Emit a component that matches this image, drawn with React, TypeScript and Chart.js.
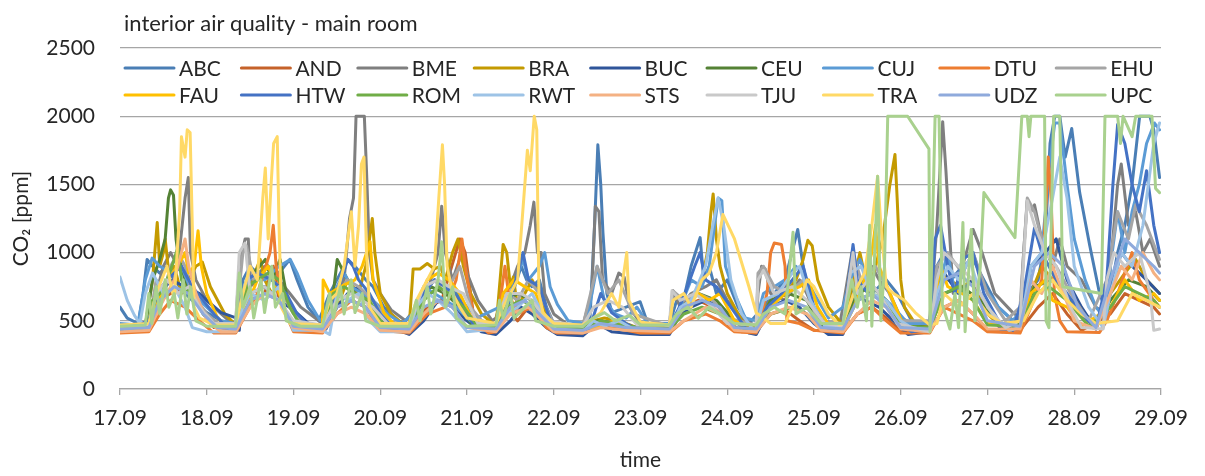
import React, { useEffect, useRef } from "react";
import { Chart, registerables } from "chart.js";

Chart.register(...registerables);

const chartTitle = "interior air quality - main room";
const xTitle = "time";
const yTitle = "CO₂ [ppm]";
const dateLabels = ["17.09", "18.09", "19.09", "20.09", "21.09", "22.09", "23.09", "24.09", "25.09", "26.09", "27.09", "28.09", "29.09"];
const yTicks = [0, 500, 1000, 1500, 2000, 2500];

const seriesNames = ["ABC", "AND", "BME", "BRA", "BUC", "CEU", "CUJ", "DTU", "EHU", "FAU", "HTW", "ROM", "RWT", "STS", "TJU", "TRA", "UDZ", "UPC"];
const seriesColors = ["#4A7EB5", "#C5622A", "#7F7F7F", "#C49A00", "#2F559A", "#548235", "#5B9BD5", "#ED7D31", "#A5A5A5", "#FFC000", "#4472C4", "#70AD47", "#9DC3E6", "#F4B183", "#C9C9C9", "#FFD966", "#8FAADC", "#A9D18E"];

// [hours since 17.09 00:00, CO2 ppm]
const ABC = [[0,600],[2,520],[5,480],[6.4,700],[7.5,950],[9,900],[11,850],[13,900],[15,800],[18,700],[20,650],[24,560],[28,500],[31,470],
[32,500],[34,800],[36,900],[38,850],[41,900],[44,850],[47,950],[49,800],[52,600],[55,500],
[58,700],[60,800],[63,950],[65,900],[68,800],[70,750],[73,600],[77,500],[80,470],
[81,550],[84,700],[87,800],[90,750],[93,700],[96,600],[100,500],[104,470],
[105,550],[108,650],[111,900],[112.5,800],[114,750],[116,800],[118,600],[120,480],
[128,470],[130,500],[131.3,1200],[132.2,1790],[133,1500],[133.6,1150],[134.7,700],[136.1,560],[140,600],[143.9,640],[146,480],
[152,470],[154,650],[156.3,700],[158,900],[160.5,1110],[161.5,800],[163,900],[165,700],[168,800],[171,600],[174,480],
[178,600],[181,700],[184,800],[187.5,1170],[189,900],[191,650],[194,500],[199,470],
[202,700],[205,800],[208,700],[212,800],[215,700],[219,500],[224,460],
[226,900],[228,1000],[230,800],[233,900],[236,950],[239,800],[243,600],[248,480],
[251,700],[254,800],[256,1100],[257.3,1800],[258.6,2000],[260,2000],[261.5,1700],[263.3,1910],[265.5,1440],[268.3,1050],[271,700],[273,560],
[276,1000],[278,1200],[280,1500],[282.1,2000],[284.9,2000],[286,1900],[287.6,1550]];

const AND = [[0,430],[8,450],[11,650],[14,700],[18,750],[22,600],[26,450],
[32,440],[36,650],[40,700],[42.4,900],[44,650],[48,460],
[56,430],[60,600],[64,650],[68,600],[72,450],
[80,430],[85,600],[89,650],[94,1100],[95.5,1000],[98,500],[104,430],
[107,600],[110,500],[113,600],[116,520],[120,430],
[128,430],[133,500],[138,460],[144,430],
[152,420],[156,600],[160,650],[164,600],[168,500],[172,420],
[176,420],[180,550],[184,580],[188,500],[192,430],
[200,420],[204,550],[208,600],[212,520],[216,420],
[224,420],[228,600],[232,650],[236,550],[240,430],
[249,430],[254,600],[258,700],[262,550],[266,430],
[274,550],[278,700],[282,650],[286,600],[287.6,550]];

const BME = [[0,460],[8,470],[10,700],[12,900],[14,1000],[16,900],[18,1400],[18.9,1550],[19.5,1000],[21,800],[24,650],[28,550],[31,480],
[32,480],[33,900],[34.6,1100],[35.5,1100],[36,750],[38,800],[40,900],[42,850],[44,800],[47,700],[50,600],[54,520],[56,480],
[58,600],[60,700],[62,800],[63.5,1250],[64.6,1400],[65.3,2000],[67.6,2000],[68.2,1600],[69,1000],[70,800],[72,700],[75,580],[79,500],
[82,600],[85,700],[88,1000],[89,1340],[90,1000],[92,800],[94.6,1000],[96,850],[99,650],[103,500],
[104,520],[106,700],[108,750],[110,900],[112,1000],[113.5,1200],[114.5,1370],[115.5,1000],[116.5,1000],[117.5,700],[120,550],[124,470],
[128,460],[130.5,700],[131.5,1340],[132.5,1300],[133.5,800],[136,700],[138,850],[139.5,820],[141,600],[144,480],
[152,470],[153,720],[155,600],[158,700],[162,750],[165,800],[168,650],[172,520],[176,460],
[176.5,700],[177.5,900],[178.5,880],[180,700],[184,650],[188,800],[190,700],[193,520],[199,460],
[200,600],[202.5,1000],[203.5,700],[206,800],[208,900],[210,800],[213,700],[216,520],[222,450],
[224,500],[226,1200],[227.6,1960],[228.5,1600],[229.6,1100],[230.5,700],[232,800],[236,1170],[238.5,1000],[242,700],[247,560],[249,520],
[250,1000],[251,1380],[252,1300],[253,1350],[255,1100],[258,900],[260,1100],[262,900],[266,800],[270,600],[273,550],
[274,900],[276,1500],[277,1650],[279,1200],[281,1300],[283,1000],[285,1100],[287.6,900]];

const BRA = [[0,450],[7,470],[9,800],[10.3,1220],[11,900],[12,1000],[12.5,1100],[13.5,850],[15,900],[17,700],[19,800],[21,900],[22.8,930],[25,750],[29,550],[32,470],
[33,500],[35,700],[38.8,950],[40,800],[42,700],[44,750],[47,600],[50,500],[54,450],
[56,460],[60,600],[63,800],[66,700],[68,900],[69.8,1250],[70.5,1000],[72,700],[75,550],[79,460],
[80,460],[81.1,880],[83,880],[85,920],[87,880],[88.6,900],[90,800],[92,1000],[93.5,1100],[95,900],[97,700],[100,550],[104,460],
[104.5,600],[106,1060],[107,1000],[108,750],[108.8,820],[110,600],[112,700],[114,800],[116,700],[118,550],[121,450],
[128,440],[131,500],[134,520],[138,500],[142,460],
[152,450],[155,600],[158,650],[161,800],[162.5,1000],[163.5,1300],[164.1,1430],[165,1100],[166,900],[168,700],[172,500],[176,450],
[176.5,500],[180,650],[184,700],[187,800],[189,950],[190.3,1090],[191.5,1050],[193,800],[196,600],[199,500],
[200,470],[203,800],[204.7,1000],[205.5,900],[207,700],[209,900],[211,1100],[213,1500],[214.4,1720],[215,1400],[216,800],[217,600],[220,480],
[224,450],[227,900],[229,800],[233,750],[236,800],[240,550],[244,450],
[249,500],[252,700],[255,900],[258,800],[261,700],[265,600],[270,470],
[274,700],[278,850],[281,950],[284,800],[287.6,700]];

const BUC = [[0,430],[8,450],[10,650],[14,800],[18,750],[22,700],[24,650],[28,560],[32.3,520],[33,430],
[33.5,600],[36,700],[40,750],[44,650],[48,580],[53,460],[56,420],
[57,450],[60,600],[63,700],[66,750],[68,650],[72,550],[78,420],
[80,400],[84,500],[88,650],[92,600],[96,500],[100,420],
[104,400],[108,500],[111,600],[114,550],[118,450],[121,400],
[128,390],[132,480],[136,420],[144,400],
[152,400],[155,550],[158,600],[162,650],[166,600],[170,500],[174,410],
[176,400],[180,600],[184,650],[188,600],[192,480],[196,400],
[200,400],[203,700],[206,650],[210,600],[214,500],[218,400],
[224,420],[226,900],[228,850],[232,700],[236,800],[240,600],[244,420],
[249,450],[252,900],[256,1000],[259,1100],[262,800],[266,600],[270,440],
[274,700],[277,1000],[280,900],[284,800],[287.6,700]];

const CEU = [[0,440],[7,460],[9,800],[11,950],[12.5,1100],[13.4,1400],[14,1460],[14.8,1420],[15.5,1100],[16,1000],[18,800],[20,700],[23,550],[26,460],
[32,450],[34,700],[37,850],[40.2,950],[42,800],[44.3,950],[46,700],[49,520],[52,450],
[56,450],[59,700],[60.1,950],[62,850],[65,700],[68,650],[72,500],
[80,450],[83,650],[86,750],[90,700],[94,600],[98,450],
[104,460],[107,650],[110,700],[114,650],[118,500],[122,450],
[128,440],[132,500],[138,480],[144,440],
[152,440],[156,600],[160,700],[165,650],[170,500],[174,440],
[176,450],[180,650],[185,700],[190,650],[194,460],
[200,460],[204,700],[208,750],[212,650],[216,480],
[224,450],[228,700],[233,750],[238,650],[244,460],
[249,480],[253,750],[258,800],[264,600],[270,460],
[274,650],[279,800],[284,750],[287.6,650]];

const CUJ = [[0,480],[5,470],[7,800],[8.9,960],[11,900],[14,850],[17,900],[20,700],[24,600],[28,500],
[32,480],[34,700],[37,850],[40,800],[44,900],[47.1,950],[49,850],[52,650],[55.4,500],
[57,500],[60,750],[62,850],[64,750],[67,700],[70,650],[74,550],[78,480],
[81,550],[84,750],[87,700],[90,650],[93,600],[97,500],
[105,600],[108,700],[111.5,950],[113,800],[116,900],[117.5,1000],[119,750],[121,620],[124,500],
[129,480],[132,900],[134,650],[137,550],[140,520],[143,600],[146,480],
[152,480],[155,600],[158,800],[161,750],[163,900],[164.5,1200],[165.5,1400],[166.5,1380],[167.5,900],[170,700],[173,520],
[176,500],[178,700],[181,750],[184,800],[187,900],[189,850],[192,700],[196,520],
[200,600],[202,800],[204.7,950],[207,800],[210,700],[214,600],[218,480],
[225,480],[227,800],[229,1000],[231,700],[234,900],[236,1000],[239,750],[243,600],[247,500],
[250,600],[252,900],[255,1000],[257,1600],[258.6,1950],[260,1950],[262,1500],[264,1100],[267,800],[270,600],[273,500],
[274,900],[276,1300],[278,1000],[280,1300],[282,1500],[284,1800],[286.2,1950],[287.6,1900]];

const DTU = [[0,410],[8,420],[11,550],[14,650],[18,600],[22,500],[26,410],
[32,410],[38,700],[41.5,1000],[42.4,1200],[43.2,900],[45,600],[48,420],
[56,410],[60,550],[64,650],[68,600],[72,430],
[80,410],[85,550],[90,600],[93,800],[94.6,1100],[95.5,900],[98,500],[102,410],
[104,420],[106.5,900],[107.5,700],[110,550],[114,600],[118,450],[121,410],
[128,410],[133,460],[140,430],[144,410],
[152,410],[156,500],[162,550],[166,500],[170,420],
[176,410],[179,700],[180,1000],[181,1070],[183,1060],[184,900],[184.5,500],[188,480],[192,430],
[200,410],[204,550],[208,600],[212,500],[216,410],
[224,410],[228,600],[232,550],[236,500],[240,420],
[249,410],[252,600],[255,800],[256.3,1400],[256.8,1700],[257.6,1400],[258.5,700],[260,500],[262,420],[271,415],
[273,500],[276,700],[280,1000],[282,800],[286,650],[287.6,600]];

const EHU = [[0,450],[8,460],[10,800],[12,700],[14,900],[16,1000],[18,900],[20,700],[24,550],[28,460],
[32,460],[34,1000],[35,1050],[37,800],[40,850],[44,750],[48,550],[52,460],
[56,460],[60,700],[63,800],[66,750],[70,650],[74,500],
[80,460],[84,700],[87,800],[90,700],[94,900],[97,600],[101,470],
[104,470],[107,700],[110,650],[113,800],[116,700],[120,480],
[128,460],[132,900],[135,700],[138,800],[142,550],
[152,460],[153,720],[156,650],[160,700],[164,650],[168,520],
[176,470],[176.5,850],[178,900],[181,750],[185,700],[189,800],[193,500],
[200,480],[202.8,1000],[205,800],[209,900],[212,750],[216,500],
[224,500],[226,900],[229,1000],[233,850],[236,1000],[240,700],[245,500],
[249,600],[251,1400],[253,1300],[256,1000],[259,900],[263,700],[268,500],
[273,800],[276,1300],[279,1100],[281,1350],[284,1200],[287.6,950]];

const FAU = [[0,430],[8,450],[10,600],[13,800],[16,900],[18,1000],[19,850],[20.5,900],[21.6,1160],[22.5,900],[24,700],[27,520],[30,440],
[32,440],[35,600],[38,800],[41,900],[44,700],[47,500],
[56,440],[56.2,800],[58,700],[61,750],[65,800],[67,900],[69.2,1080],[70,800],[73,560],[77,440],
[80,440],[82,600],[85,800],[88,850],[91,800],[94,700],[98,480],
[104,450],[106,700],[109,800],[112,750],[115,700],[118,500],
[128,430],[132,460],[137,500],[141,450],
[152,430],[156,600],[160,700],[163,650],[166,700],[170,500],
[176,430],[180,600],[184,700],[188,750],[190.5,800],[193,600],[197,430],
[200,430],[203,600],[206,800],[208,1000],[209,1200],[210,900],[213,700],[217,450],
[224,430],[227,900],[229,750],[233,700],[236,650],[240,480],
[249,450],[252,700],[256,800],[258,650],[262,600],[266,460],
[274,600],[278,800],[282,650],[286,700],[287.6,650]];

const HTW = [[0,430],[8,500],[10,700],[13,800],[17,900],[20,750],[23,650],[26,550],[30,440],
[32,440],[35,800],[38,850],[42,800],[46,700],[49,550],[53,440],
[57,440],[60,700],[63,950],[64.5,900],[66,800],[69,700],[72,550],[76,430],
[81,500],[84,700],[87,800],[90,750],[94,650],[98,460],
[104,470],[108,650],[111.5,1000],[113,800],[116,750],[119,500],
[128,420],[130,450],[133,700],[136,560],[140,480],[144,430],
[152,430],[156.3,700],[159,900],[160.5,1000],[162,800],[165,750],[169,600],[173,450],
[176,440],[179,600],[183,700],[186,800],[189,900],[192,600],[196,430],
[200,450],[202.8,1060],[204,800],[207,700],[211,650],[215,500],[219,420],
[224,440],[225.5,1100],[227,1200],[229,900],[231,700],[233,950],[236,1000],[239,700],[243,500],[247,430],
[250,700],[253,1180],[255,1000],[257,900],[259,800],[262,700],[266,550],[270,440],
[273,800],[274.7,1500],[276,1940],[278,1800],[280,1500],[282,1300],[284,1600],[286,1200],[287.6,1000]];

const ROM = [[0,440],[8,460],[9,650],[11,700],[13,800],[15,950],[16,1040],[17,800],[19,700],[22,600],[26,460],
[32,450],[35,750],[38,800],[41,850],[44,800],[47,600],[50,460],
[56,450],[59,700],[62,750],[65,700],[69,650],[73,460],
[80,450],[84,650],[88,750],[91,700],[95,600],[99,460],
[104,450],[107,600],[111,650],[115,600],[119,460],
[128,440],[133,500],[140,460],
[152,440],[156,550],[161,600],[166,550],[170,450],
[176,440],[180,550],[186,600],[190,550],[194,450],
[200,450],[204,650],[208,700],[212,650],[216,460],
[224,450],[228,700],[232,750],[236,650],[240,470],
[249,460],[253,700],[257,750],[262,650],[268,460],
[274,600],[278,750],[282,700],[286,650],[287.6,600]];

const RWT = [[0,820],[2,650],[4,540],[5.5,480],[7,700],[9,850],[12,700],[15,750],[18,600],[20,450],[24,420],
[32,420],[34,600],[36,700],[40,650],[44,750],[46,550],[48,430],
[56,430],[58,400],[60,700],[63,650],[66,700],[69,500],[72,420],
[80,420],[82,600],[85,700],[88,650],[92,550],[96,420],
[104,440],[107,550],[110,600],[114,700],[118,500],[121,430],
[128,420],[131,500],[134,460],[138,500],[142,440],
[152,430],[155,600],[158,650],[162,900],[164,1200],[165.5,1400],[167,1200],[169,800],[172,550],[175,440],
[176,440],[178,650],[182,700],[186,850],[188,900],[191,650],[195,460],
[200,460],[202,850],[205,900],[208,700],[212,650],[216,500],[220,430],
[224,420],[226,700],[229,900],[232,800],[235,950],[238,700],[242,520],[246,430],
[249,450],[252,900],[255,1000],[258,1400],[260,1700],[262,1400],[264,900],[268,600],[272,450],
[274,700],[277,1000],[280,900],[283,1200],[286,1800],[287.6,1950]];

const STS = [[0,420],[8,430],[11,600],[15,800],[18,1100],[19,900],[21,700],[24,500],[28,420],
[32,420],[36,600],[40,700],[44,650],[48,450],
[56,420],[60,550],[64,600],[68,550],[72,430],
[80,420],[84,550],[88,650],[92,600],[96,450],
[104,420],[108,550],[113,600],[117,500],[120,420],
[128,410],[133,450],[140,430],
[152,420],[156,500],[162,600],[166,550],[170,430],
[176,420],[180,550],[185,600],[190,550],[194,430],
[200,420],[204,550],[208,650],[212,600],[216,440],
[224,420],[228,600],[232,650],[236,550],[240,440],
[249,440],[252,800],[255,700],[258,900],[261,700],[264,500],[270,440],
[274,700],[277,900],[280,800],[283,1000],[286,850],[287.6,800]];

const TJU = [[0,460],[8,470],[10,700],[13,800],[16,700],[19,750],[22,600],[26,480],
[32,480],[33,1000],[34.6,1070],[36,700],[40,750],[44,650],[48,500],
[56,470],[60,650],[64,700],[67,650],[70,600],[74,480],
[80,470],[84,750],[88,800],[91,750],[95,700],[99,480],
[104,480],[107,700],[111,700],[114,650],[118,500],
[128,460],[131,600],[135,650],[139,600],[143,470],
[152,470],[152.7,720],[155,650],[159,700],[164,600],[168,480],
[176,470],[176.5,800],[178,870],[181,700],[186,750],[190,650],[195,480],
[200,460],[202.8,1000],[204,700],[207,800],[210,700],[215,480],
[224,420],[226,800],[228,1000],[232,900],[236,800],[240,600],[245,450],
[249,500],[251,1380],[253,1200],[256,1000],[259,900],[263,600],[266,450],[272,440],
[273,800],[275,1000],[278,900],[282,1000],[285,700],[286,430],[287.6,440]];

const TRA = [[0,470],[8,480],[10,700],[13,900],[15,650],[16.5,1300],[17,1850],[18,1700],[18.6,1900],[19.4,1880],[20,1200],[20.5,600],[22,520],[26,470],
[32,470],[34,700],[36,900],[38,800],[39.5,1400],[40.2,1620],[41,1100],[41.8,1500],[42.5,1800],[43.5,1850],[44,1200],[44.6,600],[47,480],
[56,470],[58,650],[60,700],[62,900],[64,1300],[65,900],[66,1200],[66.8,1650],[67.5,1700],[68.2,1000],[69,600],[72,480],
[80,480],[82,650],[85,800],[87,900],[88.2,1400],[89.2,1790],[89.8,1500],[90.5,900],[92,700],[94,600],[96,520],
[104,480],[106,600],[108,700],[110,800],[112,1500],[112.7,1750],[113.5,1600],[114.6,2000],[115.3,1900],[115.9,700],[117,560],[120,480],
[128,470],[130,500],[133,560],[136,700],[138,600],[140.2,1000],[140.8,650],[144,490],
[152,470],[153,650],[156,700],[158,600],[161,800],[163,850],[165,1000],[166.8,1280],[170,1100],[174,750],[176,560],[180,480],
[184,480],[186,600],[188,650],[190,800],[192,750],[196,550],[199,470],
[200,480],[203,700],[206,850],[208,1200],[209.6,1560],[210.5,1200],[212,750],[214,700],[217,650],[220,560],[224,470],
[226,480],[228,700],[232,600],[236,700],[240,550],[244,480],
[250,500],[254,700],[258,800],[262,650],[266,550],[270,480],
[276,500],[280,700],[284,650],[287.6,600]];

const UDZ = [[0,440],[8,450],[11,650],[15,750],[19,700],[23,550],[27,450],
[32,440],[36,650],[40,700],[44,650],[48,460],
[56,440],[60,600],[64,650],[68,600],[72,450],
[80,440],[84,600],[88,650],[92,600],[96,450],
[104,440],[108,600],[112,650],[116,550],[120,440],
[128,430],[133,480],[140,450],
[152,440],[156,600],[161,650],[166,600],[170,450],
[176,440],[180,600],[185,650],[190,600],[194,450],
[200,440],[204,650],[208,700],[212,600],[216,450],
[224,440],[228,800],[232,850],[236,750],[240,500],
[249,460],[253,900],[257,1000],[261,900],[265,600],[270,450],
[274,800],[278,1100],[282,1000],[286,900],[287.6,850]];

const UPC = [[0,460],[7,470],[8,700],[8.8,480],[10,750],[11,550],[12.5,800],[13.5,600],[15,700],[16,520],[17.5,800],[18.5,550],[19.5,750],[21,500],[24,460],
[32,460],[33,850],[34,600],[36,750],[37,520],[39,800],[40,560],[42,900],[43,600],[45,700],[46,500],[50,460],
[56,460],[58,700],[59,520],[61,750],[62,550],[64,800],[65,560],[67,700],[68,500],[72,460],
[80,460],[82,650],[83,500],[85,750],[86,550],[88,800],[89,1080],[90,600],[92,750],[93,520],[96,460],
[104,470],[105,650],[106,520],[108,700],[109,520],[112,600],[114,650],[115,500],[120,460],
[128,460],[131,520],[134,560],[137,500],[141,540],[144,470],
[152,470],[154,550],[157,600],[160,520],[163,600],[166,550],[170,480],
[176,470],[178,550],[181,600],[184,550],[186.2,1150],[187,550],[190,600],[194,480],
[200,480],[202.5,800],[204,600],[205,750],[206.5,500],[207.4,1200],[208,460],[209.6,1560],[210.5,500],[211.5,900],[212.4,2000],[217.9,2000],[223.8,1760],[224.1,420],[225.5,2000],[226.6,2000],[227.5,620],[229.6,440],[231,700],[232,450],[233.2,1220],[233.8,420],[235.5,1170],[236.5,500],[238,900],[239,1440],[247.6,1110],[249.5,2000],[251,2000],[251.5,1850],[252,2000],[255.8,2000],[256.2,500],[257,450],[258.3,2000],[260,2000],[260.8,750],[271.5,700],[272.5,2000],[276,2000],[276.8,1800],[277.5,2000],[280,1850],[281,2000],[285.5,2000],[286.5,1470],[287.6,1440]];

const seriesData = [ABC, AND, BME, BRA, BUC, CEU, CUJ, DTU, EHU, FAU, HTW, ROM, RWT, STS, TJU, TRA, UDZ, UPC];

const FONT = "Lato, 'Open Sans', sans-serif";
const TEXT = "#262626";
const GRID = "#A6A6A6";
const FS = 21;

const overlayPlugin = {
  id: "overlay",
  afterDraw(chart: any) {
    const ctx = chart.ctx;
    ctx.save();
    ctx.fillStyle = TEXT;
    ctx.font = `22px ${FONT}`;
    ctx.textAlign = "left";
    ctx.textBaseline = "alphabetic";
    ctx.fillText(chartTitle, 124, 31);
    ctx.font = `${FS}px ${FONT}`;
    ctx.textBaseline = "middle";
    chart.data.datasets.forEach((ds: any, i: number) => {
      const col = i % 9;
      const row = Math.floor(i / 9);
      const x = 124 + col * 116.4;
      const y = row === 0 ? 68 : 95;
      ctx.strokeStyle = ds.borderColor;
      ctx.lineWidth = 3;
      ctx.lineCap = "round";
      ctx.beginPath();
      ctx.moveTo(x + 1, y);
      ctx.lineTo(x + 50, y);
      ctx.stroke();
      ctx.fillStyle = TEXT;
      ctx.fillText(ds.label, x + 55, y + 1);
    });
    ctx.restore();
  },
};

export default function App() {
  const ref = useRef<HTMLCanvasElement>(null);
  useEffect(() => {
    Chart.defaults.font.family = FONT;
    const chart = new Chart(ref.current as HTMLCanvasElement, {
      type: "line",
      data: {
        datasets: seriesNames.map((name, i) => ({
          label: name,
          data: seriesData[i].map(([x, y]) => ({ x, y })),
          borderColor: seriesColors[i],
          backgroundColor: seriesColors[i],
          borderWidth: 3,
          pointRadius: 0,
          tension: 0,
          fill: false,
          order: seriesNames.length - i,
          borderJoinStyle: "round",
          borderCapStyle: "round",
        })),
      },
      options: {
        responsive: false,
        animation: false,
        layout: { padding: { top: 48, right: 44, left: 0, bottom: 0 } },
        plugins: {
          legend: { display: false },
          title: { display: false },
          tooltip: { enabled: false },
        },
        scales: {
          x: {
            type: "linear",
            min: 0,
            max: 288,
            afterBuildTicks: (scale: any) => {
              scale.ticks = dateLabels.map((_, i) => ({ value: i * 24 }));
            },
            afterFit: (scale: any) => {
              scale.height = 87;
            },
            ticks: {
              autoSkip: false,
              maxRotation: 0,
              padding: 11,
              color: TEXT,
              font: { size: FS },
              callback: (v: any) => dateLabels[Math.round(Number(v) / 24)] ?? "",
            },
            grid: { drawOnChartArea: false, drawTicks: true, tickLength: 6, color: GRID, lineWidth: 1.3 },
            border: { display: true, color: GRID, width: 1.3 },
            title: { display: true, text: xTitle, color: TEXT, font: { size: FS }, padding: { top: 0, bottom: 3 } },
          },
          y: {
            min: 0,
            max: 2500,
            afterBuildTicks: (scale: any) => {
              scale.ticks = yTicks.map((v) => ({ value: v }));
            },
            afterFit: (scale: any) => {
              scale.width = 120;
            },
            ticks: { padding: 25, color: TEXT, font: { size: FS }, callback: (v: any) => String(v) },
            grid: { drawTicks: false, color: GRID, lineWidth: 1.3 },
            border: { display: false },
            title: { display: true, text: yTitle, color: TEXT, font: { size: FS }, padding: { top: 9, bottom: 0 } },
          },
        },
      },
      plugins: [overlayPlugin],
    } as any);
    return () => chart.destroy();
  }, []);
  return (
    <div style={{ position: "fixed", left: 0, top: 0, width: 1205, height: 476, background: "#fff" }}>
      <canvas ref={ref} width={1205} height={476} style={{ display: "block" }} />
    </div>
  );
}
